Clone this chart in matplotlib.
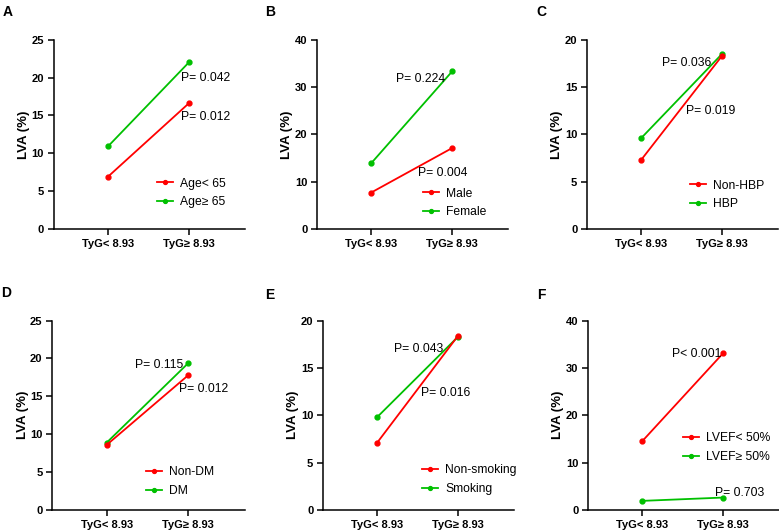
import matplotlib.pyplot as plt

plt.rcParams["font.family"] = ["Liberation Sans", "DejaVu Sans"]

categories = ["TyG< 8.93", "TyG\u2265 8.93"]

panel_letters = ["A", "B", "C", "D", "E", "F"]
red_labels = ["Age< 65", "Male", "Non-HBP", "Non-DM", "Non-smoking", "LVEF< 50%"]
green_labels = ["Age\u2265 65", "Female", "HBP", "DM", "Smoking", "LVEF\u2265 50%"]
red_values = [[6.9, 16.6], [7.7, 17.1], [7.3, 18.3], [8.6, 17.8], [7.1, 18.4], [14.5, 33.1]]
green_values = [[10.9, 22.0], [13.9, 33.3], [9.6, 18.5], [8.9, 19.4], [9.8, 18.3], [1.9, 2.6]]
y_max = [25, 40, 20, 25, 20, 40]
y_step = [5, 10, 5, 5, 5, 10]
p_green = ["P= 0.042", "P= 0.224", "P= 0.036", "P= 0.115", "P= 0.043", "P< 0.001"]
p_red = ["P= 0.012", "P= 0.004", "P= 0.019", "P= 0.012", "P= 0.016", "P= 0.703"]

# text anchors (data coords) and legend anchors (axes fraction)
p_green_pos = [(0.90, 20.0), (0.31, 31.8), (0.26, 17.5), (0.35, 19.2), (0.21, 17.0), (0.37, 33.0)]
p_red_pos = [(0.90, 14.8), (0.58, 11.8), (0.55, 12.5), (0.89, 16.0), (0.54, 12.4), (0.90, 3.6)]
legend_pos = [(0.54, 0.19), (0.555, 0.137), (0.54, 0.18), (0.49, 0.15), (0.52, 0.16), (0.50, 0.33)]

axes_rects = [
    (0.069, 0.568, 0.245, 0.357),
    (0.407, 0.568, 0.245, 0.357),
    (0.7535, 0.568, 0.245, 0.357),
    (0.067, 0.038, 0.247, 0.357),
    (0.4146, 0.038, 0.245, 0.357),
    (0.7548, 0.038, 0.245, 0.357),
]
letter_pos = [(0.004, 0.978), (0.340, 0.978), (0.689, 0.978),
              (0.002, 0.447), (0.340, 0.443), (0.690, 0.443)]

RED = "#ff0000"
GREEN = "#00c000"

fig = plt.figure(figsize=(7.79, 5.30), dpi=100)

for i in range(6):
    ax = fig.add_axes(axes_rects[i])
    x = [0, 1]
    lg, = ax.plot(x, green_values[i], color=GREEN, marker="o", markersize=3.5,
                  linewidth=1.3, label=green_labels[i], clip_on=False)
    lr, = ax.plot(x, red_values[i], color=RED, marker="o", markersize=3.5,
                  linewidth=1.3, label=red_labels[i], clip_on=False)
    ax.set_xlim(-0.67, 1.69)
    ax.set_ylim(0, y_max[i])
    ax.set_yticks(range(0, y_max[i] + 1, y_step[i]))
    ax.set_xticks(x)
    ax.set_xticklabels(categories)
    for s in ["top", "right"]:
        ax.spines[s].set_visible(False)
    for s in ["left", "bottom"]:
        ax.spines[s].set_linewidth(1.1)
    ax.tick_params(width=1.1, length=4, labelsize=8, pad=3)
    for lab in ax.get_xticklabels() + ax.get_yticklabels():
        lab.set_fontweight("bold")
    ax.set_ylabel("LVA (%)", fontsize=9.5, fontweight="bold", labelpad=1)

    ax.text(p_green_pos[i][0], p_green_pos[i][1], p_green[i], fontsize=8.7,
            ha="left", va="center")
    ax.text(p_red_pos[i][0], p_red_pos[i][1], p_red[i], fontsize=8.7,
            ha="left", va="center")

    ax.legend(handles=[lr, lg], loc="center left", bbox_to_anchor=legend_pos[i],
              frameon=False, fontsize=8.7, borderpad=0, borderaxespad=0,
              handlelength=1.3, handletextpad=0.6, labelspacing=0.55,
              markerscale=0.8)

    fig.text(letter_pos[i][0], letter_pos[i][1], panel_letters[i], fontsize=10,
             fontweight="bold", ha="left", va="center")

fig.savefig("out.png", dpi=100)
